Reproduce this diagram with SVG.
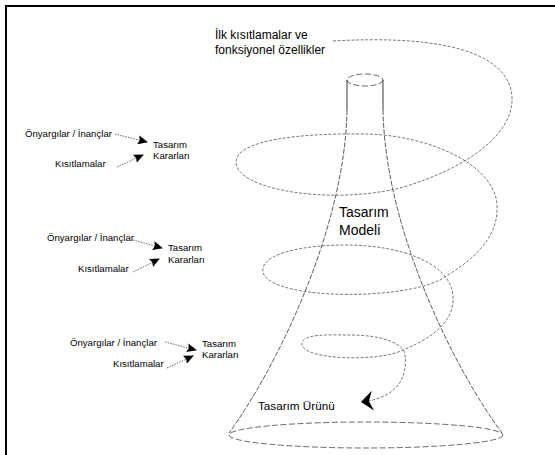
<svg xmlns="http://www.w3.org/2000/svg" width="555" height="455" viewBox="0 0 555 455">
<style>
text{font-family:"Liberation Sans",Arial,sans-serif;fill:#000}
.s{font-size:9.6px}
.m{font-size:12px}
.b{font-size:14px}
.sp{fill:none;stroke:#555;stroke-width:0.8;stroke-dasharray:3 1.6}
.cone{fill:none;stroke:#333;stroke-width:0.8;stroke-dasharray:5 1.5}
.el{fill:none;stroke:#444;stroke-width:0.8;stroke-dasharray:6 2.5}
.dot{fill:none;stroke:#444;stroke-width:0.8;stroke-dasharray:1.5 1.2}
</style>
<defs>
<marker id="ah" viewBox="0 0 10 9" refX="9" refY="4.5" markerWidth="10" markerHeight="9" markerUnits="userSpaceOnUse" orient="auto">
<path d="M0,0 L10,4.5 L0,9 L1.5,4.5 Z" fill="#000"/>
</marker>
<marker id="bh" viewBox="0 0 12 20" refX="11" refY="10" markerWidth="12" markerHeight="20" markerUnits="userSpaceOnUse" orient="auto">
<path d="M12,10 L0,0 L4,10 L0,20 Z" fill="#000"/>
</marker>
</defs>
<g id="frame">
<line x1="6" y1="6" x2="555" y2="6" stroke="#000" stroke-width="2"/>
<line x1="6" y1="5" x2="6" y2="455" stroke="#000" stroke-width="2"/>
</g>
<g id="cone">
<ellipse cx="365" cy="80" rx="18" ry="6" class="el"/>
<path d="M347,80 L347,110" fill="none" stroke="#222" stroke-width="0.9"/>
<path d="M383,80 L383,110" fill="none" stroke="#222" stroke-width="0.9"/>
<path d="M347,110 C345,230 275,370 229,433" class="cone"/>
<path d="M383,110 C385,230 455,370 502,433" class="cone"/>
<ellipse cx="366" cy="435" rx="137" ry="13" class="el"/>
</g>
<g id="connectors">
<path d="M333,41 C420,36 500,45 511,90 C520,130 470,168 400,188 C330,205 236,190 236,162 C236,140 300,133 365,134 C430,135 495,165 497,205 C499,240 470,262 440,280 C400,300 280,300 264,275 C255,255 300,245 345,245 C400,245 445,262 452,290 C458,315 440,335 403,350 C380,362 305,360 302,345 C300,333 330,335 350,335 C385,335 405,345 405,355 C408,380 395,398 362,402" class="sp" marker-end="url(#bh)"/>
<path d="M115,134 L147,142" class="dot" marker-end="url(#ah)"/>
<path d="M117,167 L143,155" class="dot" marker-end="url(#ah)"/>
<path d="M133,240 L162,248" class="dot" marker-end="url(#ah)"/>
<path d="M133,272 L159,259" class="dot" marker-end="url(#ah)"/>
<path d="M165,342 L196,350" class="dot" marker-end="url(#ah)"/>
<path d="M167,368 L193,356" class="dot" marker-end="url(#ah)"/>
</g>
<g id="title">
<text x="215" y="39" class="m">İlk kısıtlamalar ve</text>
<text x="215" y="54" class="m">fonksiyonel özellikler</text>
</g>
<g id="model">
<text x="339" y="217" class="b">Tasarım</text>
<text x="339" y="235" class="b">Modeli</text>
</g>
<g id="product">
<text x="258" y="410" style="font-size:11.7px">Tasarım Ürünü</text>
</g>
<g id="group1">
<text x="25" y="137" class="s">Önyargılar / İnançlar</text>
<text x="153" y="148" class="s">Tasarım</text>
<text x="153" y="159" class="s">Kararları</text>
<text x="55" y="167" class="s">Kısıtlamalar</text>
</g>
<g id="group2">
<text x="47" y="241" class="s">Önyargılar / İnançlar</text>
<text x="168" y="251" class="s">Tasarım</text>
<text x="168" y="263" class="s">Kararları</text>
<text x="78" y="272" class="s">Kısıtlamalar</text>
</g>
<g id="group3">
<text x="70" y="346" class="s">Önyargılar / İnançlar</text>
<text x="202" y="347" class="s">Tasarım</text>
<text x="202" y="358" class="s">Kararları</text>
<text x="113" y="367" class="s">Kısıtlamalar</text>
</g>
</svg>
